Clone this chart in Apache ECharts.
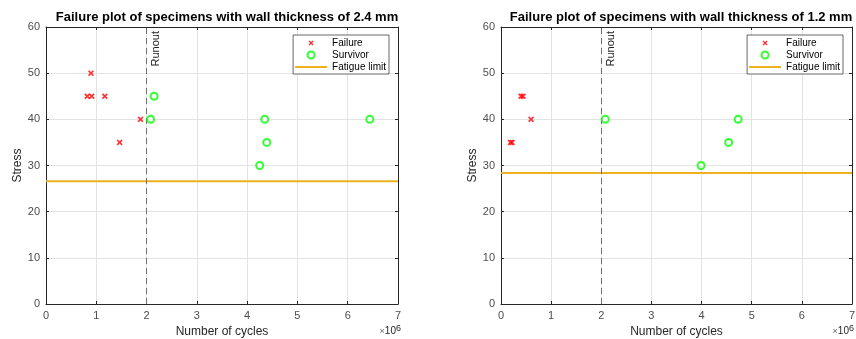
<!DOCTYPE html>
<html><head><meta charset="utf-8">
<script src="https://cdn.jsdelivr.net/npm/echarts@6/dist/echarts.min.js"></script>
<style>html,body{margin:0;padding:0;background:#fff}#c{width:856px;height:339px}</style>
</head><body><div id="c"></div>
<script>
// ---- data ----
const titles = ['Failure plot of specimens with wall thickness of 2.4 mm',
                'Failure plot of specimens with wall thickness of 1.2 mm'];
const xTickLabels = ['0','1','2','3','4','5','6','7'];
const yTickLabels = ['0','10','20','30','40','50','60'];
const leftFailureX = [895000, 820000, 910000, 1170000, 1880000, 1465000];
const leftFailureY = [50, 45, 45, 45, 40, 35];
const leftSurvivorX = [2150000, 2080000, 4350000, 4390000, 4250000, 6440000];
const leftSurvivorY = [45, 40, 40, 35, 30, 40];
const leftFatigueLimit = 26.6;
const rightFailureX = [400000, 440000, 190000, 220000, 600000];
const rightFailureY = [45, 45, 35, 35, 40];
const rightSurvivorX = [2080000, 3990000, 4540000, 4730000];
const rightSurvivorY = [40, 30, 35, 40];
const rightFatigueLimit = 28.4;
const runoutCycles = 2000000;
const xMax = 7000000, yMax = 60;

// ---- chart ----
const FONT = 'Helvetica, Arial, "Liberation Sans", sans-serif';
const X_SYM = 'path://M2,0 L5,3 L8,0 L10,2 L7,5 L10,8 L8,10 L5,7 L2,10 L0,8 L3,5 L0,2 Z';
const X_LEG = 'path://M-2,-2 M12,12 M2,0 L5,3 L8,0 L10,2 L7,5 L10,8 L8,10 L5,7 L2,10 L0,8 L3,5 L0,2 Z';
const LINE_LEG = 'path://M0,0 M32,7 M0,2.5 L32,2.5 L32,4.5 L0,4.5 Z';
const pts = (xs, ys) => xs.map((x, i) => [x, ys[i]]);
const axisCol = '#262626';
const grids = [{left: 46, top: 27, width: 352, height: 277, outerBoundsMode: 'none', containLabel: false},
               {left: 501, top: 27, width: 351, height: 277, outerBoundsMode: 'none', containLabel: false}];

function mainX(gi) {
  return {type: 'value', gridIndex: gi, min: 0, max: xMax, interval: 1000000,
    name: 'Number of cycles', nameLocation: 'middle', nameGap: 22,
    nameTextStyle: {color: axisCol, fontSize: 12, fontFamily: FONT},
    axisLine: {onZero: false, lineStyle: {color: axisCol}}, axisTick: {inside: true, length: 3, lineStyle: {color: axisCol}},
    axisLabel: {color: '#4d4d4d', fontSize: 11, fontFamily: FONT, margin: 6,
      formatter: v => xTickLabels[Math.round(v / 1000000)]},
    splitLine: {show: true, lineStyle: {color: '#e3e3e3'}}};
}
function topX(gi) {
  return {type: 'value', gridIndex: gi, position: 'top', min: 0, max: xMax, interval: 1000000,
    axisLine: {show: true, onZero: false, lineStyle: {color: axisCol}}, axisTick: {show: true, inside: true, length: 3, lineStyle: {color: axisCol}},
    axisLabel: {show: false}, splitLine: {show: false}};
}
function mainY(gi) {
  return {type: 'value', gridIndex: gi, min: 0, max: yMax, interval: 10,
    name: 'Stress', nameLocation: 'middle', nameGap: 22, nameRotate: 90,
    nameTextStyle: {color: axisCol, fontSize: 12, fontFamily: FONT},
    axisLine: {show: true, onZero: false, lineStyle: {color: axisCol}}, axisTick: {show: true, inside: true, length: 3, lineStyle: {color: axisCol}},
    axisLabel: {color: '#4d4d4d', fontSize: 11, fontFamily: FONT, margin: 6,
      formatter: v => yTickLabels[Math.round(v / 10)]},
    splitLine: {show: true, lineStyle: {color: '#e3e3e3'}}};
}
function rightY(gi) {
  return {type: 'value', gridIndex: gi, position: 'right', min: 0, max: yMax, interval: 10,
    axisLine: {show: true, onZero: false, lineStyle: {color: axisCol}}, axisTick: {show: true, inside: true, length: 3, lineStyle: {color: axisCol}},
    axisLabel: {show: false}, splitLine: {show: false}};
}

function seriesFor(gi, fx, fy, sx, sy, lim) {
  const xi = gi * 2, yi = gi * 2;
  return [
    {name: 'Failure', type: 'scatter', xAxisIndex: xi, yAxisIndex: yi, symbol: X_SYM, symbolSize: 6,
      itemStyle: {color: '#ff0000'}, data: pts(fx, fy), z: 5,
      markLine: {silent: true, symbol: 'none', data: [{xAxis: runoutCycles}],
        lineStyle: {color: '#6e6e6e', type: [6, 4], width: 1},
        label: {show: true, position: 'insideEndBottom', formatter: 'Runout', color: '#222', fontSize: 11, fontFamily: FONT, distance: 4}}},
    {name: 'Survivor', type: 'scatter', xAxisIndex: xi, yAxisIndex: yi, symbol: 'circle', symbolSize: 7,
      itemStyle: {color: '#fff', borderColor: '#00ff00', borderWidth: 2}, data: pts(sx, sy), z: 5},
    {name: 'Fatigue limit', type: 'line', xAxisIndex: xi, yAxisIndex: yi, symbol: 'none', showSymbol: false,
      lineStyle: {color: '#EDB120', width: 2}, itemStyle: {color: '#EDB120'}, data: [[0, lim], [xMax, lim]], z: 4}
  ];
}

function legendFor(right) {
  return {orient: 'vertical', right: right, top: 35, backgroundColor: '#fff', borderColor: '#262626', borderWidth: 0.7,
    padding: [3, 3, 2, 2], itemGap: 2, itemWidth: 32, itemHeight: 7, borderRadius: 0,
    textStyle: {color: '#000', fontSize: 10, fontFamily: FONT},
    selectedMode: false,
    data: [{name: 'Failure', icon: X_LEG, itemStyle: {color: '#ff0000'}},
           {name: 'Survivor', icon: 'circle', itemStyle: {color: '#fff', borderColor: '#00ff00', borderWidth: 2}},
           {name: 'Fatigue limit', icon: LINE_LEG, itemStyle: {color: '#EDB120'}}]};
}

const supStyle = {fontSize: 10, fontWeight: 'normal', color: '#262626', fontFamily: FONT,
  rich: {m: {fontSize: 9, color: '#666', fontFamily: FONT}, s: {fontSize: 9, verticalAlign: 'top', padding: [0,0,6,0], color: '#262626', fontFamily: FONT}}};

const chart = echarts.init(document.getElementById('c'));
chart.setOption({
  animation: false,
  textStyle: {fontFamily: FONT},
  title: [
    {text: titles[0], left: 222, top: 6, textAlign: 'center', textStyle: {fontSize: 13, fontWeight: 'bold', color: '#000', fontFamily: FONT}},
    {text: titles[1], left: 676, top: 6, textAlign: 'center', textStyle: {fontSize: 13, fontWeight: 'bold', color: '#000', fontFamily: FONT}},
    {text: '{m|×}10{s|6}', left: 401, top: 324, padding: 0, textAlign: 'right', textStyle: supStyle},
    {text: '{m|×}10{s|6}', left: 854, top: 324, padding: 0, textAlign: 'right', textStyle: supStyle}
  ],
  legend: [legendFor(856 - 389), legendFor(856 - 843)],
  grid: grids,
  xAxis: [mainX(0), topX(0), mainX(1), topX(1)],
  yAxis: [mainY(0), rightY(0), mainY(1), rightY(1)],
  series: [].concat(
    seriesFor(0, leftFailureX, leftFailureY, leftSurvivorX, leftSurvivorY, leftFatigueLimit),
    seriesFor(1, rightFailureX, rightFailureY, rightSurvivorX, rightSurvivorY, rightFatigueLimit))
});
</script></body></html>
